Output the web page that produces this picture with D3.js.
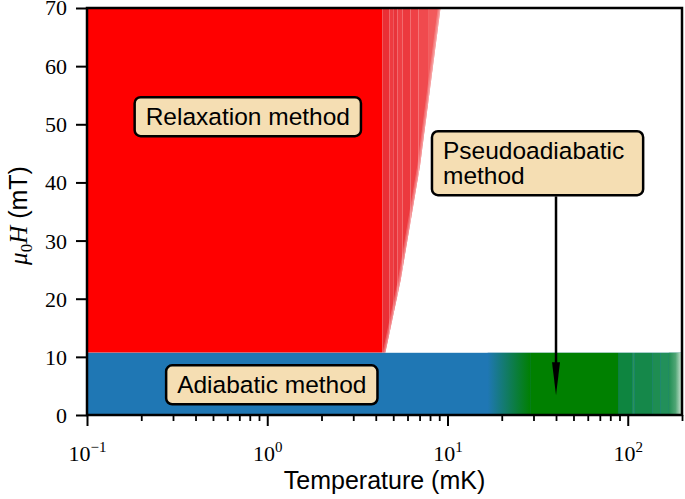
<!DOCTYPE html>
<html>
<head>
<meta charset="utf-8">
<script src="https://cdn.jsdelivr.net/npm/d3@7"></script>
<style>
body { margin: 0; background: #fff; }
svg { display: block; }
</style>
</head>
<body>
<svg width="685" height="499"></svg>
<script>
// axis ranges and ticks
const xDomain = [0.1, 200];          // temperature, mK
const yDomain = [0, 70];             // mu0 H, mT
const yTicks = [0, 10, 20, 30, 40, 50, 60, 70];
const xMajor = [0.1, 1, 10, 100];
const xMajorExp = ["\u22121", "0", "1", "2"];

// adiabatic band: everything below this field
const adiabaticH = 10.7;

// right edge of the relaxation region (H, T)
const relaxEdgeH = [10.7, 23.2, 43.0, 70];
const relaxEdgeT = [4.52, 5.5, 7.05, 9.15];
// left edges of the lighter vertical streaks in the relaxation region (mK)
const relaxStreakT = [4.35, 4.76, 5.0, 5.27, 5.63, 6.23, 6.9, 7.8];

// pseudoadiabatic part of the bottom band (mK)
const greenFadeT = [16.7, 29];       // blue -> green
const greenSolidT = [29, 89];
const greenStreakT = [89, 106.5, 109, 137, 152, 169];
const greenEndFadeT = [169, 200];

// annotation boxes (centre in data units)
const boxLabels = [
  { lines: ["Relaxation method"], t: 0.78, h: 51.3 },
  { lines: ["Adiabatic method"], t: 1.06, h: 5.2 },
  { lines: ["Pseudoadiabatic", "method"], t: 31.6, h: 43.3 }
];
const arrowT = 40;
const arrowH = [37.6, 3.4];

const svg = d3.select('svg');
const margin = { top: 8, right: 3, bottom: 84, left: 87 };
const width = 685 - margin.left - margin.right;
const height = 499 - margin.top - margin.bottom;

const x = d3.scaleLog().domain(xDomain).range([0, width]);
const y = d3.scaleLinear().domain(yDomain).range([height, 0]);

const g = svg.append('g').attr('transform', `translate(${margin.left},${margin.top})`);
const defs = svg.append('defs');

const line = d3.line().x(d => x(d[0])).y(d => y(d[1]));

// relaxation region clip
const edge = relaxEdgeH.map((h, i) => [relaxEdgeT[i], h]);
const relaxPoly = [[xDomain[0], relaxEdgeH[0]], ...edge, [xDomain[0], yDomain[1]]];
defs.append('clipPath').attr('id', 'relaxClip')
  .append('path').attr('d', line(relaxPoly) + 'Z');

const red = g.append('g').attr('clip-path', 'url(#relaxClip)');
red.append('rect')
  .attr('x', x(xDomain[0])).attr('y', y(yDomain[1]))
  .attr('width', x(relaxStreakT[0]) - x(xDomain[0]))
  .attr('height', y(adiabaticH) - y(yDomain[1]))
  .attr('fill', '#ff0000');

const redStreakColors = ['#ea2f35', '#ee3b40', '#e9343a', '#ef3f44', '#ec393e', '#ef4146', '#f04a4e', '#f25a5c'];
red.selectAll('rect.streak').data(relaxStreakT).enter().append('rect')
  .attr('class', 'streak')
  .attr('x', d => x(d))
  .attr('y', y(yDomain[1]))
  .attr('width', (d, i) => x(i + 1 < relaxStreakT.length ? relaxStreakT[i + 1] : xDomain[1]) - x(d))
  .attr('height', y(adiabaticH) - y(yDomain[1]))
  .attr('fill', (d, i) => redStreakColors[i]);

// soft fade along the slanted edge
[0.965, 0.98, 0.992].forEach(f => {
  const strip = edge.map(p => [p[0] * f, p[1]]).concat(edge.slice().reverse());
  red.append('path').attr('d', line(strip) + 'Z')
    .attr('fill', '#ffffff').attr('opacity', 0.2);
});

// adiabatic band
g.append('rect')
  .attr('x', x(xDomain[0])).attr('y', y(adiabaticH))
  .attr('width', x(xDomain[1]) - x(xDomain[0]))
  .attr('height', y(0) - y(adiabaticH))
  .attr('fill', '#1f77b4');

// blue -> green fade
const fade = defs.append('linearGradient').attr('id', 'greenFade')
  .attr('gradientUnits', 'userSpaceOnUse')
  .attr('x1', x(greenFadeT[0])).attr('x2', x(greenFadeT[1])).attr('y1', 0).attr('y2', 0);
fade.append('stop').attr('offset', 0).attr('stop-color', '#1f77b4');
fade.append('stop').attr('offset', 1).attr('stop-color', '#008000');
g.append('rect')
  .attr('x', x(greenFadeT[0])).attr('y', y(adiabaticH))
  .attr('width', x(greenFadeT[1]) - x(greenFadeT[0]))
  .attr('height', y(0) - y(adiabaticH))
  .attr('fill', 'url(#greenFade)');

g.append('rect')
  .attr('x', x(greenSolidT[0])).attr('y', y(adiabaticH))
  .attr('width', x(greenSolidT[1]) - x(greenSolidT[0]))
  .attr('height', y(0) - y(adiabaticH))
  .attr('fill', '#008000');

const greenStreakColors = ['#0e8540', '#2a9358', '#15884a', '#1e8d52', '#22905a', '#1f8e54'];
g.selectAll('rect.gstreak').data(greenStreakT).enter().append('rect')
  .attr('class', 'gstreak')
  .attr('x', d => x(d))
  .attr('y', y(adiabaticH))
  .attr('width', (d, i) => x(i + 1 < greenStreakT.length ? greenStreakT[i + 1] : xDomain[1]) - x(d))
  .attr('height', y(0) - y(adiabaticH))
  .attr('fill', (d, i) => greenStreakColors[i]);

const endFade = defs.append('linearGradient').attr('id', 'greenEnd')
  .attr('gradientUnits', 'userSpaceOnUse')
  .attr('x1', x(greenEndFadeT[0])).attr('x2', x(greenEndFadeT[1])).attr('y1', 0).attr('y2', 0);
endFade.append('stop').attr('offset', 0).attr('stop-color', '#1f8e54');
endFade.append('stop').attr('offset', 0.5).attr('stop-color', '#4ea574');
endFade.append('stop').attr('offset', 1).attr('stop-color', '#d4e9da');
g.append('rect')
  .attr('x', x(greenEndFadeT[0])).attr('y', y(adiabaticH))
  .attr('width', x(greenEndFadeT[1]) - x(greenEndFadeT[0]))
  .attr('height', y(0) - y(adiabaticH))
  .attr('fill', 'url(#greenEnd)');

// axes
const serif = '"Liberation Serif", "DejaVu Serif", serif';
const sans = '"Liberation Sans", Arial, sans-serif';

const yAxis = g.append('g')
  .call(d3.axisLeft(y).tickValues(yTicks).tickSize(11).tickPadding(9).tickFormat(d3.format('d')));
yAxis.select('.domain').remove();
yAxis.selectAll('line').attr('stroke', '#000').attr('stroke-width', 2);
yAxis.selectAll('text').attr('font-family', serif).attr('font-size', 22).attr('fill', '#000')
  .attr('dy', d => d === yDomain[1] ? '0.3em' : '0.34em');

const minor = [];
[0.1, 1, 10, 100].forEach(dec => d3.range(2, 10).forEach(k => {
  if (dec * k <= xDomain[1]) minor.push(dec * k);
}));
const xMinor = g.append('g').attr('transform', `translate(0,${height})`)
  .call(d3.axisBottom(x).tickValues(minor).tickSize(6).tickFormat(''));
xMinor.select('.domain').remove();
xMinor.selectAll('line').attr('stroke', '#000').attr('stroke-width', 1.8);

const xAxis = g.append('g').attr('transform', `translate(0,${height})`)
  .call(d3.axisBottom(x).tickValues(xMajor).tickSize(11).tickFormat(''));
xAxis.select('.domain').remove();
xAxis.selectAll('line').attr('stroke', '#000').attr('stroke-width', 2);
xAxis.selectAll('.tick').append('text')
  .attr('y', 46).attr('text-anchor', 'middle')
  .attr('font-family', serif).attr('font-size', 22).attr('fill', '#000')
  .each(function(d, i) {
    const t = d3.select(this);
    t.append('tspan').text('10');
    t.append('tspan').attr('dy', -9).attr('font-size', 15).text(xMajorExp[i]);
  });

// frame
g.append('rect').attr('width', width).attr('height', height)
  .attr('fill', 'none').attr('stroke', '#000').attr('stroke-width', 2.5);

// axis labels
svg.append('text')
  .attr('x', margin.left + width / 2).attr('y', 489)
  .attr('text-anchor', 'middle').attr('font-family', sans).attr('font-size', 25)
  .text('Temperature (mK)');

const yl = svg.append('text')
  .attr('transform', `translate(27,${margin.top + height / 2 + 4}) rotate(-90)`)
  .attr('text-anchor', 'middle').attr('font-size', 25);
yl.append('tspan').attr('font-family', serif).attr('font-style', 'italic').text('\u03bc');
yl.append('tspan').attr('font-family', serif).attr('font-size', 17).attr('dy', 5).text('0');
yl.append('tspan').attr('font-family', serif).attr('font-style', 'italic').attr('dy', -5).text('H');
yl.append('tspan').attr('font-family', sans).text('\u00a0(mT)');

// arrow
g.append('line')
  .attr('x1', x(arrowT)).attr('x2', x(arrowT))
  .attr('y1', y(arrowH[0])).attr('y2', y(arrowH[1]) - 30)
  .attr('stroke', '#000').attr('stroke-width', 2.5);
g.append('path')
  .attr('d', `M${x(arrowT) - 4},${y(arrowH[1]) - 33} L${x(arrowT) + 4},${y(arrowH[1]) - 33} L${x(arrowT)},${y(arrowH[1])} Z`)
  .attr('fill', '#000');

// label boxes
boxLabels.forEach(b => {
  const grp = g.append('g');
  const box = grp.append('rect');
  const txt = grp.append('text').attr('font-family', sans).attr('font-size', 24.5).attr('fill', '#000');
  b.lines.forEach((l, i) => txt.append('tspan').attr('x', 0).attr('dy', i === 0 ? 0 : 25).text(l));
  const bb = txt.node().getBBox();
  const padX = 11, padY = 6;
  box.attr('x', bb.x - padX).attr('y', bb.y - padY)
    .attr('width', bb.width + 2 * padX + (b.lines.length > 1 ? 8 : 0)).attr('height', bb.height + 2 * padY)
    .attr('rx', 6).attr('fill', '#f5deb3').attr('stroke', '#000').attr('stroke-width', 2.5);
  const cx = bb.x + bb.width / 2 + (b.lines.length > 1 ? 4 : 0), cy = bb.y + bb.height / 2;
  grp.attr('transform', `translate(${x(b.t) - cx},${y(b.h) - cy})`);
});
</script>
</body>
</html>
